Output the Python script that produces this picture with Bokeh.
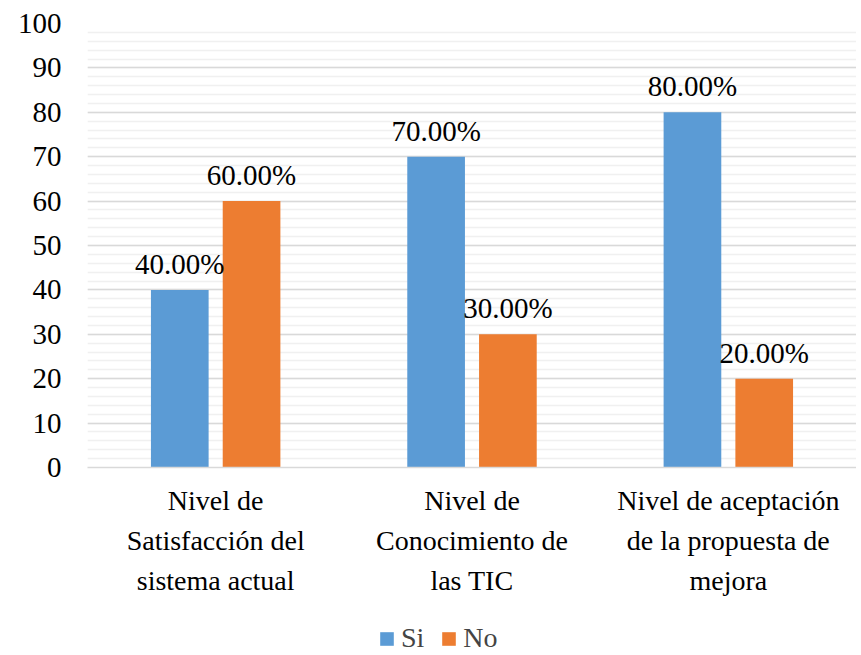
from bokeh.plotting import figure
from bokeh.layouts import column
from bokeh.models import ColumnDataSource, FactorRange, Range1d, SingleIntervalTicker, Legend, LegendItem, LabelSet
from bokeh.transform import dodge
from bokeh.embed import file_html
from bokeh.resources import INLINE

categories = ["Nivel de\nSatisfacción del\nsistema actual",
              "Nivel de\nConocimiento de\nlas TIC",
              "Nivel de aceptación\nde la propuesta de\nmejora"]
series = ["Si", "No"]
si_values = [40, 70, 80]
no_values = [60, 30, 20]
si_labels = ["40.00%", "70.00%", "80.00%"]
no_labels = ["60.00%", "30.00%", "20.00%"]

src = ColumnDataSource(dict(cat=categories, si=si_values, no=no_values,
                            si_lab=si_labels, no_lab=no_labels))

FONT = "Times New Roman"
BLUE = "#5B9BD5"
ORANGE = "#ED7D31"

p = figure(x_range=FactorRange(*categories), y_range=Range1d(0, 100),
           width=856, height=610, output_backend="svg", toolbar_location=None,
           min_border_left=87, min_border_top=23, min_border_right=0, min_border_bottom=143)
p.outline_line_color = None

p.vbar(x=dodge("cat", -0.14, range=p.x_range), top="si", width=0.225, source=src,
       fill_color=BLUE, line_color=None)
p.vbar(x=dodge("cat", 0.14, range=p.x_range), top="no", width=0.225, source=src,
       fill_color=ORANGE, line_color=None)

for col, lab, off in (("si", "si_lab", -0.14), ("no", "no_lab", 0.14)):
    p.add_layout(LabelSet(x=dodge("cat", off, range=p.x_range), y=col, text=lab, source=src,
                          text_align="center", text_baseline="bottom", y_offset=10,
                          text_font=FONT, text_font_size="29px", text_color="#000000"))

p.yaxis.ticker = SingleIntervalTicker(interval=10, num_minor_ticks=5)
p.yaxis.axis_line_color = None
p.yaxis.major_tick_line_color = None
p.yaxis.minor_tick_line_color = None
p.yaxis.major_label_text_font = FONT
p.yaxis.major_label_text_font_size = "29px"
p.yaxis.major_label_text_color = "#000000"
p.yaxis.major_label_standoff = 20

p.xaxis.axis_line_color = "#d9d9d9"
p.xaxis.axis_line_width = 1.5
p.xaxis.major_tick_line_color = None
p.xaxis.minor_tick_line_color = None
p.xaxis.major_label_text_font = FONT
p.xaxis.major_label_text_font_size = "28px"
p.xaxis.major_label_text_color = "#000000"
p.xaxis.major_label_standoff = 11
p.xaxis.major_label_text_line_height = 1.3

p.xgrid.grid_line_color = None
p.ygrid.grid_line_color = "#d9d9d9"
p.ygrid.grid_line_width = 1.5
p.ygrid.minor_grid_line_color = "#f0f0f0"
p.ygrid.minor_grid_line_width = 1.5

# legend row
lg = figure(width=856, height=45, output_backend="svg", toolbar_location=None,
            x_range=Range1d(0, 1), y_range=Range1d(0, 1),
            min_border=0, min_border_left=0, min_border_right=0,
            min_border_top=0, min_border_bottom=0)
lg.axis.visible = False
lg.grid.visible = False
lg.outline_line_color = None
d1 = lg.vbar(x=[5], top=[5], width=0.1, fill_color=BLUE, line_color=None)
d2 = lg.vbar(x=[5], top=[5], width=0.1, fill_color=ORANGE, line_color=None)
legend = Legend(items=[LegendItem(label=series[0], renderers=[d1]),
                       LegendItem(label=series[1], renderers=[d2])],
                orientation="horizontal", location=(291, 1),
                label_text_font=FONT, label_text_font_size="28px",
                glyph_width=17, glyph_height=17, label_standoff=6, spacing=16,
                border_line_color=None, background_fill_alpha=0,
                margin=0, padding=2)
lg.add_layout(legend, "center")

open("out.html", "w").write(file_html(column(p, lg, spacing=0), INLINE))
